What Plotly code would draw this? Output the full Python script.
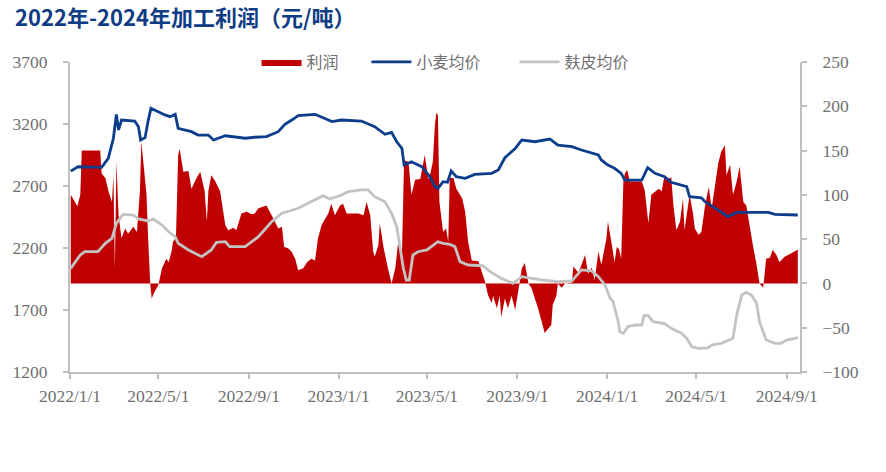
import plotly.graph_objects as go

# ---------------- data ----------------
wheat_dates = ["2022-01-02","2022-01-12","2022-02-13","2022-02-22","2022-03-01","2022-03-05","2022-03-08",
    "2022-03-12","2022-03-30","2022-04-04","2022-04-07","2022-04-13","2022-04-17","2022-04-21","2022-05-10",
    "2022-05-17","2022-05-24","2022-05-28","2022-06-15","2022-06-24","2022-07-08","2022-07-15","2022-07-31",
    "2022-08-27","2022-09-09","2022-09-25","2022-10-11","2022-10-20","2022-10-31","2022-11-07","2022-11-30",
    "2022-12-23","2023-01-05","2023-02-01","2023-02-19","2023-03-05","2023-03-14","2023-03-21","2023-03-28",
    "2023-03-31","2023-04-10","2023-04-24","2023-05-05","2023-05-12","2023-05-16","2023-05-23","2023-05-29",
    "2023-06-03","2023-06-10","2023-06-22","2023-07-05","2023-07-28","2023-08-06","2023-08-15","2023-08-29",
    "2023-09-07","2023-09-25","2023-10-15","2023-10-26","2023-11-14","2023-11-27","2023-12-20","2023-12-24",
    "2024-01-02","2024-01-11","2024-01-20","2024-01-25","2024-02-17","2024-02-25","2024-03-06","2024-03-19",
    "2024-03-28","2024-04-18","2024-04-22","2024-05-08","2024-05-13","2024-05-31","2024-06-13","2024-06-25",
    "2024-08-07","2024-08-16","2024-09-16"]
wheat_price = [2820,2855,2850,2923,3085,3278,3152,3232,3224,3178,3071,3090,3219,3327,3273,3259,3278,3165,
    3138,3111,3111,3071,3105,3085,3093,3098,3138,3197,3238,3267,3278,3219,3232,3224,3178,3117,3133,3057,
    3003,2869,2896,2856,2775,2694,2681,2735,2730,2821,2775,2762,2794,2802,2829,2928,3003,3071,3057,3079,
    3030,3017,2990,2950,2910,2869,2843,2802,2748,2748,2848,2802,2775,2730,2694,2614,2605,2573,2506,2452,
    2487,2487,2471,2466]

bran_dates = ["2022-01-02","2022-01-15","2022-01-21","2022-02-08","2022-02-18","2022-02-27","2022-03-05",
    "2022-03-14","2022-03-28","2022-04-04","2022-04-17","2022-04-24","2022-05-06","2022-05-15","2022-05-24",
    "2022-05-28","2022-06-11","2022-06-29","2022-07-12","2022-07-19","2022-07-31","2022-08-06","2022-08-27",
    "2022-09-14","2022-10-02","2022-10-16","2022-11-07","2022-11-25","2022-12-11","2022-12-20","2023-01-05",
    "2023-01-14","2023-02-01","2023-02-10","2023-02-19","2023-03-05","2023-03-14","2023-03-21","2023-03-25",
    "2023-03-30","2023-04-03","2023-04-07","2023-04-12","2023-04-19","2023-05-01","2023-05-07","2023-05-16",
    "2023-05-23","2023-06-01","2023-06-08","2023-06-15","2023-06-26","2023-07-16","2023-07-26","2023-08-10",
    "2023-08-26","2023-09-07","2023-10-04","2023-10-26","2023-11-14","2023-11-27","2023-12-11","2023-12-20",
    "2023-12-29","2024-01-05","2024-01-09","2024-01-16","2024-01-18","2024-01-23","2024-01-29","2024-02-08",
    "2024-02-17","2024-02-20","2024-02-26","2024-03-03","2024-03-19","2024-03-28","2024-04-11","2024-04-18",
    "2024-04-25","2024-05-04","2024-05-17","2024-05-22","2024-06-04","2024-06-20","2024-06-25","2024-07-02",
    "2024-07-08","2024-07-15","2024-07-22","2024-07-26","2024-08-04","2024-08-16","2024-08-24","2024-09-01",
    "2024-09-16"]
bran_price = [2036,2144,2170,2170,2238,2278,2399,2471,2466,2434,2418,2434,2385,2331,2291,2238,2184,2130,
    2184,2246,2251,2211,2211,2291,2412,2480,2520,2573,2622,2595,2627,2654,2668,2668,2614,2573,2480,2372,
    2224,2036,1942,1942,2144,2170,2184,2211,2251,2238,2230,2211,2090,2063,2057,2009,1955,1915,1969,1942,
    1928,1934,2023,2015,1969,1902,1794,1767,1606,1525,1512,1565,1579,1579,1654,1654,1606,1590,1552,1512,
    1472,1404,1391,1395,1418,1431,1472,1660,1821,1843,1821,1754,1606,1458,1431,1431,1458,1477]

profit_dates = ["2022-01-02","2022-01-11","2022-01-15","2022-01-17","2022-02-11","2022-02-13","2022-02-18",
    "2022-02-22","2022-02-27","2022-03-01","2022-03-03","2022-03-05","2022-03-08","2022-03-12","2022-03-17",
    "2022-03-21","2022-03-28","2022-04-02","2022-04-06","2022-04-08","2022-04-11","2022-04-15","2022-04-17",
    "2022-04-20","2022-04-22","2022-04-26","2022-05-01","2022-05-06","2022-05-12","2022-05-15","2022-05-19",
    "2022-05-21","2022-05-25","2022-05-28","2022-05-30","2022-06-04","2022-06-11","2022-06-15","2022-06-22",
    "2022-06-27","2022-07-03","2022-07-06","2022-07-08","2022-07-12","2022-07-17","2022-07-24","2022-07-31",
    "2022-08-04","2022-08-11","2022-08-15","2022-08-22","2022-08-29","2022-09-05","2022-09-09","2022-09-14",
    "2022-09-25","2022-10-02","2022-10-11","2022-10-16","2022-10-19","2022-10-24","2022-10-29","2022-11-03",
    "2022-11-07","2022-11-14","2022-11-19","2022-11-25","2022-11-30","2022-12-04","2022-12-09","2022-12-13",
    "2022-12-18","2022-12-22","2022-12-27","2023-01-03","2023-01-07","2023-01-12","2023-01-28","2023-02-04",
    "2023-02-08","2023-02-13","2023-02-17","2023-02-19","2023-02-24","2023-02-26","2023-03-03","2023-03-09",
    "2023-03-14","2023-03-19","2023-03-23","2023-03-28","2023-03-31","2023-04-06","2023-04-10","2023-04-15",
    "2023-04-22","2023-04-28","2023-05-03","2023-05-06","2023-05-09","2023-05-12","2023-05-14","2023-05-16",
    "2023-05-18","2023-05-23","2023-05-27","2023-05-30","2023-06-01","2023-06-06","2023-06-10","2023-06-18",
    "2023-06-22","2023-06-26","2023-07-01","2023-07-10","2023-07-19","2023-07-23","2023-07-28","2023-07-30",
    "2023-08-04","2023-08-08","2023-08-10","2023-08-15","2023-08-19","2023-08-24","2023-08-29","2023-09-02",
    "2023-09-07","2023-09-11","2023-09-16","2023-09-20","2023-09-25","2023-09-29","2023-10-04","2023-10-08",
    "2023-10-13","2023-10-17","2023-10-19","2023-10-24","2023-10-26","2023-10-31","2023-11-05","2023-11-14",
    "2023-11-16","2023-11-23","2023-12-02","2023-12-06","2023-12-11","2023-12-15","2023-12-20","2023-12-24",
    "2023-12-31","2024-01-02","2024-01-07","2024-01-11","2024-01-14","2024-01-17","2024-01-20","2024-01-23",
    "2024-01-25","2024-01-28","2024-02-01","2024-02-17","2024-02-21","2024-02-26","2024-03-01","2024-03-06",
    "2024-03-11","2024-03-15","2024-03-19","2024-03-24","2024-03-28","2024-03-31","2024-04-04","2024-04-09",
    "2024-04-13","2024-04-15","2024-04-20","2024-04-22","2024-04-27","2024-04-29","2024-05-04","2024-05-08",
    "2024-05-13","2024-05-18","2024-05-22","2024-05-27","2024-05-31","2024-06-04","2024-06-09","2024-06-11",
    "2024-06-16","2024-06-20","2024-06-25","2024-06-29","2024-07-04","2024-07-08","2024-07-13","2024-07-17",
    "2024-07-22","2024-07-26","2024-07-31","2024-08-02","2024-08-04","2024-08-09","2024-08-13","2024-08-18",
    "2024-08-22","2024-08-29","2024-09-07","2024-09-16"]
profit = [100,87,100,150,150,124,119,105,92,122,17,137,77,51,62,56,64,58,104,160,134,100,55,0,-17,-9,-2,
    17,28,24,36,47,52,145,152,126,127,107,119,126,104,70,104,122,116,104,66,60,63,60,79,81,78,79,85,88,77,
    62,64,41,40,36,28,15,17,24,28,26,51,66,72,79,90,77,88,90,79,79,77,92,77,36,30,43,68,41,17,0,17,47,30,
    139,137,100,117,118,145,118,125,137,180,193,190,92,58,62,47,119,119,107,96,81,47,26,25,2,-13,-22,-14,
    -28,-14,-38,-17,-28,-14,-30,-9,17,23,0,-5,-17,-28,-43,-56,-51,-47,-24,-14,0,-5,0,1,19,12,32,11,18,4,
    36,21,51,70,45,24,41,39,28,115,124,128,115,115,105,68,100,104,107,104,122,118,120,88,60,70,96,60,92,
    100,77,62,55,58,88,109,85,115,136,149,156,122,134,100,115,132,92,88,62,43,21,0,-5,9,28,29,38,32,24,30,
    34,38]

series_names = ["利润", "小麦均价", "麸皮均价"]
left_ticks = [1200, 1700, 2200, 2700, 3200, 3700]
right_ticks = [-100, -50, 0, 50, 100, 150, 200, 250]

# ---------------- figure ----------------
FONT = "Liberation Serif, Noto Sans CJK SC, serif"
GRAY_TXT = "#6f6f6f"
AX = "#bfbfbf"
TICK_SIZE = 17.5

fig = go.Figure()
# profit area on the primary (right-hand) axis so that price lines sit on top
fig.add_trace(go.Scatter(
    x=profit_dates, y=profit, name=series_names[0], yaxis="y", legend="legend",
    mode="lines", line=dict(width=0, color="#c00000"),
    fill="tozeroy", fillcolor="#c00000"))
fig.add_trace(go.Scatter(
    x=wheat_dates, y=wheat_price, name=series_names[1], yaxis="y2", legend="legend2",
    mode="lines", line=dict(width=2.8, color="#0b3d8c")))
fig.add_trace(go.Scatter(
    x=bran_dates, y=bran_price, name=series_names[2], yaxis="y2", legend="legend3",
    mode="lines", line=dict(width=2.8, color="#c3c3c3")))

axis_common = dict(showgrid=False, zeroline=False, showline=True, linecolor=AX, linewidth=2,
                   ticks="outside", ticklen=5, tickcolor=AX, tickwidth=1.5, automargin=False,
                   tickfont=dict(size=TICK_SIZE, color=GRAY_TXT, family=FONT))

legend_common = dict(orientation="h", xanchor="left", y=1.0, yanchor="middle",
                     font=dict(size=16, color=GRAY_TXT, family=FONT),
                     bgcolor="rgba(0,0,0,0)", itemwidth=40)

fig.update_layout(
    width=886, height=472,
    margin=dict(l=70, r=86, t=62, b=100, autoexpand=False),
    paper_bgcolor="white", plot_bgcolor="white",
    font=dict(family=FONT, size=14, color=GRAY_TXT),
    showlegend=True,
    legend=dict(x=0.2555, **legend_common),
    legend2=dict(x=0.406, **legend_common),
    legend3=dict(x=0.609, **legend_common),
    title=dict(text="<b>2022年-2024年加工利润（元/吨）</b>", x=0.017, xanchor="left",
               y=0.9619, yanchor="middle", pad=dict(t=0, b=0, l=0, r=0),
               font=dict(family="Noto Sans CJK SC, sans-serif", size=22, color="#0f3c85")),
    xaxis=dict(type="date", range=["2022-01-01", "2024-09-19"],
               tick0="2022-01-01", dtick="M4", tickformat="%Y/%-m/%-d",
               ticklabelstandoff=2, **axis_common),
    yaxis=dict(range=[-100, 250], tickvals=right_ticks, side="right",
               ticklabelstandoff=12, **axis_common),
    yaxis2=dict(range=[1200, 3700], tickvals=left_ticks, side="left", overlaying="y",
                ticklabelstandoff=12, **axis_common),
)

fig.write_html("out.html", config={"displayModeBar": False},
               post_script="document.body.style.margin='0px';")
